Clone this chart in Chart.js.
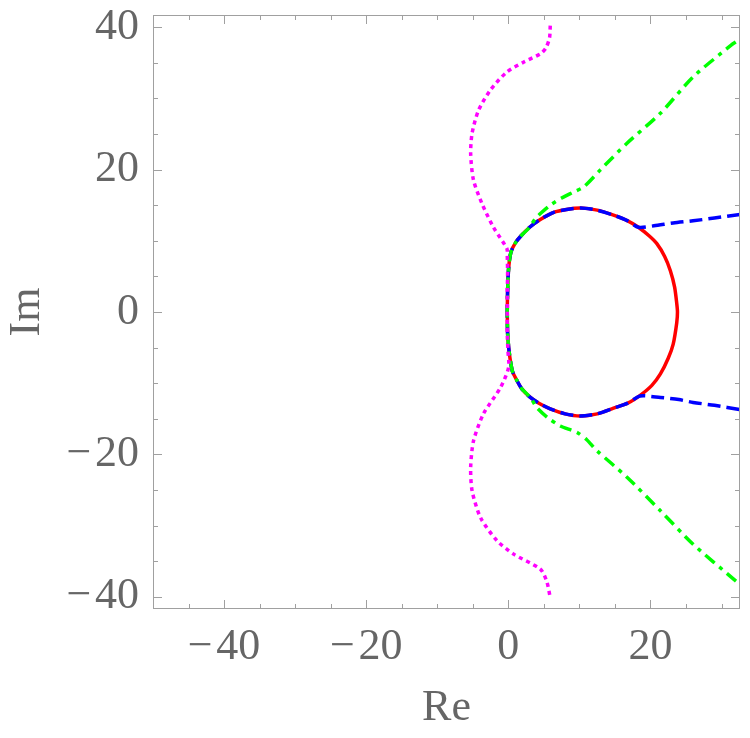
<!DOCTYPE html>
<html>
<head>
<meta charset="utf-8">
<script src="https://cdn.jsdelivr.net/npm/chart.js@4/dist/chart.umd.min.js"></script>
<style>
  html, body { margin: 0; padding: 0; background: #fff; }
  #wrap { width: 750px; height: 738px; }
</style>
</head>
<body>
<div id="wrap"><canvas id="plot" width="750" height="738"></canvas></div>
<script>
// curves (Re, Im)
const redRe = [-0.15, -0.1, 0.0, 0.15, 0.4, 1.0, 1.8, 3.0, 4.5, 6.4, 8.2, 10.2, 12.5, 14.8, 16.8, 18.3, 19.8, 20.9, 22.0, 22.8, 23.4, 23.7, 23.8,
  23.7, 23.2, 22.5, 21.4, 20.2, 18.55, 16.8, 14.8, 12.5, 10.1, 8.0, 5.9, 4.3, 3.1, 1.9, 1.2, 0.6, 0.28, 0.05, -0.1, -0.15];
const redIm = [0, 3, 5.5, 7.2, 8.5, 9.7, 10.7, 11.9, 13.0, 14.0, 14.4, 14.6, 14.3, 13.6, 12.8, 11.9, 10.7, 9.6, 7.8, 5.8, 3.5, 1.2, 0,
  -1.5, -4.5, -6.5, -8.7, -10.3, -11.7, -12.8, -13.5, -14.3, -14.6, -14.3, -13.6, -12.8, -12.0, -10.8, -9.6, -8.4, -6.8, -5.0, -3.0, 0];

const blueRe = [32.6, 29.0, 26.0, 23.2, 20.5, 18.3, 16.8, 14.8, 12.5, 10.2, 8.2, 6.4, 4.5, 3.0, 1.8, 1.0, 0.4, 0.15, 0.0, -0.1, -0.15,
  -0.1, 0.05, 0.28, 0.6, 1.2, 1.9, 3.1, 4.3, 5.9, 8.0, 10.1, 12.5, 14.8, 16.8, 18.55, 21.4, 24.0, 26.0, 29.0, 32.6];
const blueIm = [13.7, 13.2, 12.8, 12.5, 12.1, 11.9, 12.8, 13.6, 14.3, 14.6, 14.4, 14.0, 13.0, 11.9, 10.7, 9.7, 8.5, 7.2, 5.5, 3.0, 0,
  -3.0, -5.0, -6.8, -8.4, -9.6, -10.8, -12.0, -12.8, -13.6, -14.3, -14.6, -14.3, -13.5, -12.8, -11.8, -12.0, -12.3, -12.7, -13.1, -13.7];

const greenRe = [32.0, 31.4, 26.0, 21.4, 16.7, 12.9, 10.6, 9.2, 7.5, 5.9, 4.6, 3.8, 3.0, 1.8, 1.0, 0.4, 0.15, 0.0, -0.1, -0.15,
  -0.1, 0.05, 0.28, 0.6, 1.2, 1.9, 3.1, 4.0, 5.5, 7.3, 9.65, 11.0, 12.5, 16.7, 21.4, 26.0, 31.7, 32.2];
const greenIm = [37.9, 37.5, 33.0, 27.9, 23.7, 19.9, 17.55, 16.85, 16.0, 15.0, 13.9, 13.1, 11.9, 10.7, 9.7, 8.5, 7.2, 5.5, 3.0, 0,
  -3.0, -5.0, -6.8, -8.4, -9.6, -10.8, -12.0, -13.4, -14.8, -16.0, -16.9, -17.9, -19.5, -23.2, -27.9, -32.6, -37.5, -37.9];

const magentaRe = [5.9, 5.8, 5.3, 4.6, 2.2, -0.2, -2.5, -4.2, -5.1, -5.3, -4.9, -3.7, -2.1, -0.2, -0.15, -0.1, -0.15, -0.15,
  -0.15, -0.05, 0.04, -1.1, -3.5, -4.9, -5.3, -5.1, -3.9, -1.6, 0.75, 4.5, 5.4, 5.9];
const magentaIm = [40.2, 38.5, 37.1, 36.3, 35.1, 33.7, 31.2, 28.3, 25.1, 22.2, 18.5, 15.2, 11.9, 8.9, 7.9, 5.5, 3.0, 0,
  -3.0, -5.5, -7.8, -10.6, -14.3, -18.1, -21.8, -25.1, -28.9, -32.1, -34.0, -36.1, -37.8, -40.1];

const xMajor = [-40, -20, 0, 20];
const xMinor = [-45, -35, -30, -25, -15, -10, -5, 5, 10, 15, 25, 30];
const yMajor = [-40, -20, 0, 20, 40];
const yMinor = [-35, -30, -25, -15, -10, -5, 5, 10, 15, 25, 30, 35];

const pts = (re, im) => re.map((x, i) => ({ x: x, y: im[i] }));
const label = v => (v < 0 ? '\u2212\u200A' + Math.abs(v) : String(v));

const textColor = '#666666';
const frameColor = '#a0a0a0';
const serif = 'Liberation Serif';

// frame on all four sides with inward ticks
const frameTicks = {
  id: 'frameTicks',
  afterDraw(chart) {
    const { ctx, chartArea: a, scales } = chart;
    const xs = scales.x, ys = scales.y;
    ctx.save();
    ctx.strokeStyle = frameColor;
    ctx.lineWidth = 1;
    ctx.strokeRect(a.left + 0.5, a.top + 0.5, a.right - a.left - 1, a.bottom - a.top - 1);
    ctx.beginPath();
    const tick = (vals, len) => {
      vals.forEach(v => {
        const px = Math.round(xs.getPixelForValue(v)) + 0.5;
        ctx.moveTo(px, a.bottom); ctx.lineTo(px, a.bottom - len);
        ctx.moveTo(px, a.top); ctx.lineTo(px, a.top + len);
      });
    };
    const tickY = (vals, len) => {
      vals.forEach(v => {
        const py = Math.round(ys.getPixelForValue(v)) + 0.5;
        ctx.moveTo(a.left, py); ctx.lineTo(a.left + len, py);
        ctx.moveTo(a.right, py); ctx.lineTo(a.right - len, py);
      });
    };
    tick(xMajor, 9); tick(xMinor, 5);
    tickY(yMajor, 9); tickY(yMinor, 5);
    ctx.stroke();
    ctx.restore();
  }
};

const common = { showLine: true, pointRadius: 0, borderWidth: 3.5, fill: false, tension: 0.25 };

new Chart(document.getElementById('plot'), {
  type: 'scatter',
  data: {
    datasets: [
      Object.assign({ data: pts(redRe, redIm), borderColor: '#ff0000', order: 4 }, common),
      Object.assign({ data: pts(blueRe, blueIm), borderColor: '#0000ff', borderDash: [13, 6], order: 3 }, common),
      Object.assign({ data: pts(greenRe, greenIm), borderColor: '#00ff00', borderDash: [12, 6, 4, 6], order: 2 }, common),
      Object.assign({ data: pts(magentaRe, magentaIm), borderColor: '#ff00ff', borderDash: [4, 4], order: 1 }, common)
    ]
  },
  options: {
    responsive: false,
    animation: false,
    layout: { padding: { top: 15, right: 10, left: 0, bottom: 0 } },
    plugins: { legend: { display: false }, tooltip: { enabled: false } },
    scales: {
      x: {
        type: 'linear',
        min: -50,
        max: 32.6,
        afterBuildTicks: s => { s.ticks = xMajor.map(v => ({ value: v })); },
        afterFit: s => { s.height = 129; s.paddingLeft = 0; s.paddingRight = 0; },
        grid: { display: false },
        border: { display: false },
        ticks: { color: textColor, font: { family: serif, size: 44 }, padding: 4, maxRotation: 0, callback: v => label(v) },
        title: { display: true, text: 'Re', color: textColor, font: { family: serif, size: 44 }, padding: { top: 0, bottom: 3 } }
      },
      y: {
        type: 'linear',
        min: -41.7,
        max: 41.7,
        afterBuildTicks: s => { s.ticks = yMajor.map(v => ({ value: v })); },
        afterFit: s => { s.width = 153; s.paddingTop = 0; s.paddingBottom = 0; },
        grid: { display: false },
        border: { display: false },
        ticks: { color: textColor, font: { family: serif, size: 44 }, padding: 6, callback: v => label(v) },
        title: { display: true, text: 'Im', color: textColor, font: { family: serif, size: 44 }, padding: { top: 1, bottom: 0 } }
      }
    }
  },
  plugins: [frameTicks]
});
</script>
</body>
</html>
